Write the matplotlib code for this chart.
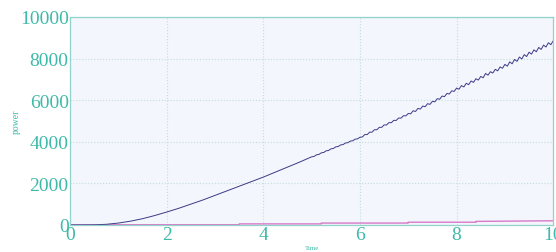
import matplotlib
matplotlib.use("Agg")
import matplotlib.pyplot as plt
import numpy as np

# blue trace: smooth rise up to t=5, then rippled samples every 0.05
time_early = [0.0, 0.25, 0.5, 0.75, 1.0, 1.25, 1.5, 1.75, 2.0, 2.25, 2.5, 2.75,
              3.0, 3.25, 3.5, 3.75, 4.0, 4.25, 4.5, 4.75]
power_early = [0, 0, 5, 30, 90, 180, 300, 450, 620, 800, 1000, 1200,
               1420, 1640, 1860, 2080, 2300, 2540, 2780, 3020]
time_late = np.round(np.arange(5.0, 10.0001, 0.05), 2)
power_late = [3275, 3293, 3371, 3389, 3467, 3485, 3563, 3581, 3659, 3677,
              3755, 3771, 3847, 3863, 3939, 3955, 4031, 4047, 4123, 4139,
              4215, 4228, 4346, 4344, 4462, 4460, 4578, 4576, 4694, 4692,
              4810, 4805, 4920, 4915, 5030, 5025, 5140, 5135, 5250, 5245,
              5360, 5342, 5489, 5456, 5603, 5570, 5717, 5684, 5831, 5798,
              5945, 5918, 6071, 6044, 6197, 6170, 6323, 6296, 6449, 6422,
              6580, 6525, 6700, 6635, 6810, 6745, 6920, 6855, 7030, 6965,
              7140, 7077, 7284, 7201, 7368, 7305, 7482, 7409, 7596, 7533,
              7720, 7633, 7841, 7749, 7957, 7865, 8073, 7981, 8189, 8097,
              8305, 8212, 8419, 8326, 8533, 8440, 8647, 8554, 8761, 8668,
              8850]

# magenta trace: small stepped values
time_low = [0.0, 3.5, 3.5, 5.2, 5.2, 7.0, 7.0, 8.4, 8.4, 10.0]
power_low = [10, 10, 50, 50, 90, 90, 130, 130, 170, 200]

xticks = [0, 2, 4, 6, 8, 10]
yticks = [0, 2000, 4000, 6000, 8000, 10000]

teal = "#3dbaa9"
plt.rcParams["font.family"] = ["Liberation Serif", "DejaVu Serif"]

time = list(time_early) + list(time_late)
power = power_early + power_late

fig = plt.figure(figsize=(5.56, 2.53), dpi=100)
ax = fig.add_axes([0.126, 0.107, 0.869, 0.822])
ax.set_facecolor("#f3f6fc")

ax.plot(time_low, power_low, color="#d77ac8", linewidth=1.0)
ax.plot(time, power, color="#3a3a86", linewidth=0.7)

ax.set_xlim(0, 10)
ax.set_ylim(0, 10000)
ax.set_xticks(xticks)
ax.set_yticks(yticks)
ax.grid(True, color="#c5dedb", linestyle=":", linewidth=0.8)

for s in ax.spines.values():
    s.set_color("#92d3cb")
    s.set_linewidth(0.9)

ax.tick_params(length=0, pad=1, labelcolor=teal, labelsize=14)

ax.set_xlabel("Time", fontsize=5, color=teal, labelpad=1)
ax.set_ylabel("power", fontsize=7, color=teal, labelpad=-1)

fig.savefig("out.png", dpi=100, facecolor="white")
